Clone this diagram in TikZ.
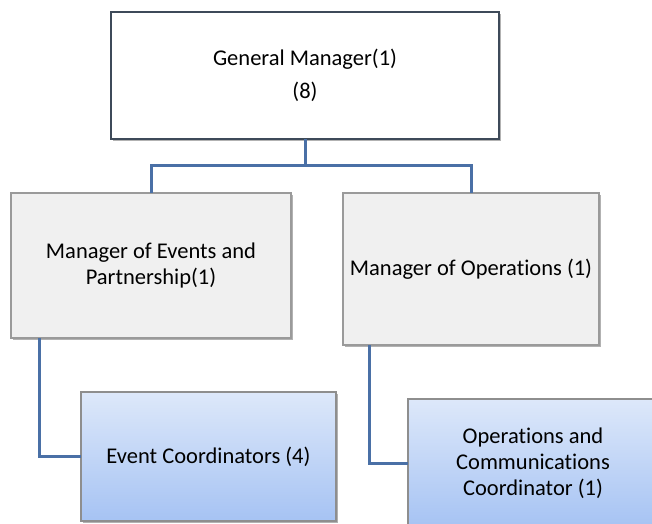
\documentclass[tikz,border=0pt]{standalone}
\usepackage{fontspec}
\setmainfont{Carlito}[Ligatures=NoCommon]
\usetikzlibrary{shadows}
\definecolor{gmborder}{HTML}{3E4A59}
\definecolor{mgrfill}{HTML}{F0F0F0}
\definecolor{mgrborder}{HTML}{9A9A9A}
\definecolor{cotop}{HTML}{DDE8FA}
\definecolor{cobot}{HTML}{A6C3F3}
\definecolor{coborder}{HTML}{8E8E8E}
\definecolor{conncol}{HTML}{4A70A6}
\tikzset{
  base/.style={rectangle, anchor=north west, outer sep=0pt, inner sep=2pt, align=center,
    font=\fontsize{22.5}{26}\selectfont,
    drop shadow={shadow xshift=1.5pt, shadow yshift=-1.5pt, fill=black, opacity=0.3}},
  gmbox/.style={base, draw=gmborder, line width=2pt, fill=white},
  mgrbox/.style={base, draw=mgrborder, line width=1.2pt, fill=mgrfill},
  cobox/.style={base, draw=coborder, line width=1.2pt, shading=axis, top color=cotop, bottom color=cobot},
  conn/.style={draw=conncol, line width=3pt}
}
\begin{document}
\begin{tikzpicture}[x=1pt, y=-1pt]
\useasboundingbox (0,0) rectangle (652,523);
\clip (0,0) rectangle (652,523);
\fill[white] (0,0) rectangle (652,523);
\coordinate (bus) at (305,165);
\node[gmbox, minimum width=388pt, minimum height=127pt] (gm) at (111,12) {General Manager(1)\\[7pt](8)};
\node[mgrbox, minimum width=280pt, minimum height=145pt] (m1) at (11,193) {Manager of Events and\\Partnership(1)};
\node[mgrbox, minimum width=256pt, minimum height=152pt] (m2) at (343,193) {Manager of Operations (1)};
\node[cobox, minimum width=255pt, minimum height=129pt] (ec) at (81,392) {Event Coordinators (4)};
\node[cobox, minimum width=250pt, minimum height=128pt] (oc) at (408,399) {Operations and\\Communications\\Coordinator (1)};
\draw[conn] (gm.south) -- (bus);
\draw[conn] (m1.north) |- (bus) -| (m2.north);
\draw[conn] ([xshift=28pt]m1.south west) |- (ec.west);
\draw[conn] ([xshift=26pt]m2.south west) |- (oc.west);
\end{tikzpicture}
\end{document}
